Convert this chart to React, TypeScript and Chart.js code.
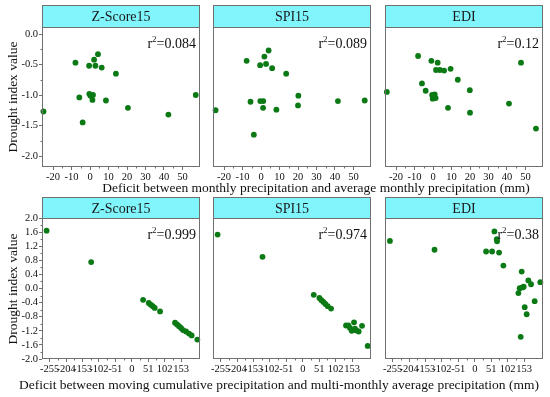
import React, { useEffect, useRef } from 'react';
import { Chart, registerables } from 'chart.js';
Chart.register(...registerables);

const FONT = '"Liberation Serif", "Times New Roman", serif';

const PANEL_TITLES = ['Z-Score15', 'SPI15', 'EDI'];
const TOP_R2 = ['0.084', '0.089', '0.12'];
const BOTTOM_R2 = ['0.999', '0.974', '0.38'];

const TOP_X_TICKS = [-20, -10, 0, 10, 20, 30, 40, 50];
const TOP_Y_TICKS = [0, -0.5, -1, -1.5, -2];
const BOTTOM_X_TICKS = [-255, -204, -153, -102, -51, 0, 51, 102, 153];
const BOTTOM_Y_TICKS = [2, 1.6, 1.2, 0.8, 0.4, 0, -0.4, -0.8, -1.2, -1.6, -2];

const TOP_X_RANGE = [-26, 59.5];
const TOP_Y_RANGE = [-2.18, 0.115];
const BOTTOM_X_RANGE = [-279, 212];
const BOTTOM_Y_RANGE = [-2, 2];

// Top row: monthly deficit (mm) vs index value
const topZX = [-25.2, -7.9, -5.8, -4.0, -0.5, -0.4, 0.2, 1.3, 1.6, 2.2, 2.9, 4.3, 6.3, 8.6, 14.0, 20.5, 42.4, 57.2];
const topZY = [-1.27, -0.47, -1.04, -1.45, -0.52, -0.98, -1.01, -1.08, -1.0, -0.42, -0.52, -0.33, -0.55, -1.09, -0.65, -1.21, -1.32, -1.0];

const topSX = [-24.6, -7.8, -5.7, -3.9, -0.5, -0.4, 1.2, 1.1, 1.8, 2.7, 4.1, 6.0, 8.3, 13.6, 20.2, 20.0, 41.6, 56.1];
const topSY = [-1.25, -0.44, -1.11, -1.65, -0.51, -1.1, -1.1, -1.21, -0.37, -0.49, -0.27, -0.56, -1.24, -0.65, -1.01, -1.17, -1.1, -1.09];

const topEX = [-25.0, -8.1, -6.0, -4.0, -0.9, -0.5, -0.2, 0.9, 1.4, 1.6, 2.5, 3.7, 6.0, 9.5, 8.1, 13.4, 19.9, 20.0, 41.1, 47.6, 55.7];
const topEY = [-0.95, -0.36, -0.81, -0.93, -0.44, -1.0, -1.06, -0.99, -1.05, -0.59, -0.47, -0.59, -0.6, -0.57, -1.21, -0.75, -0.92, -1.29, -1.14, -0.47, -1.55];

// Bottom row: cumulative deficit (mm) vs index value
const botZX = [-264.7, -126.2, 35.2, 52.7, 58.9, 65.2, 71.4, 87.9, 134.4, 140.6, 146.8, 153.0, 159.3, 168.6, 177.9, 186.1, 203.7];
const botZY = [1.64, 0.75, -0.32, -0.41, -0.46, -0.5, -0.55, -0.65, -0.97, -1.02, -1.07, -1.12, -1.18, -1.22, -1.28, -1.33, -1.45];

const botSX = [-264.7, -125.1, 34.1, 51.7, 57.9, 64.1, 70.3, 77.6, 87.9, 134.4, 141.7, 146.8, 152.0, 159.3, 162.4, 166.5, 173.7, 184.1, 201.7];
const botSY = [1.53, 0.9, -0.18, -0.27, -0.33, -0.38, -0.44, -0.5, -0.57, -1.05, -1.05, -1.12, -1.2, -0.96, -1.14, -1.19, -1.22, -1.06, -1.63];

const botEX = [-263.7, -125.1, 35.2, 53.8, 61.0, 68.3, 69.3, 75.5, 88.9, 145.8, 135.5, 139.6, 147.9, 152.0, 166.5, 174.8, 186.1, 155.1, 161.3, 142.7, 203.7];
const botEY = [1.35, 1.1, 1.05, 1.05, 1.62, 1.4, 1.34, 1.02, 0.65, 0.48, -0.13, 0.01, 0.03, 0.05, 0.23, 0.12, -0.36, -0.53, -0.73, -1.37, 0.18];

const TOP_TITLE = 'Deficit between monthly precipitation and average monthly precipitation (mm)';
const BOTTOM_TITLE = 'Deficit between moving cumulative precipitation and multi-monthly average precipitation (mm)';
const Y_TITLE = 'Drought index value';

const LEFT_SPACE = 36;
const RIGHT_SPACE = 6;
const TOP_SPACE = 26;
const BOTTOM_SPACE = 20;

const PANEL_X = [[42, 200], [213, 371], [385, 543]];
const ROWS = [
  { stripTop: 5, plotTop: 27, plotBottom: 167 },
  { stripTop: 197, plotTop: 218, plotBottom: 359 },
];

const FRAME = '#707070';
const DOT = '#0b7a14';
const STRIP = '#80f6fc';

const decoPlugin = {
  id: 'panelDeco',
  afterDraw(chart: any, _args: any, opts: any) {
    const { ctx, chartArea: a, scales } = chart;
    ctx.save();
    const l = Math.round(a.left) + 0.5;
    const t = Math.round(a.top) + 0.5;
    const r = Math.round(a.right) - 0.5;
    const b = Math.round(a.bottom) - 0.5;
    // strip header
    const st = t - opts.stripH;
    ctx.fillStyle = STRIP;
    ctx.fillRect(l, st, r - l, t - st);
    ctx.strokeStyle = FRAME;
    ctx.lineWidth = 1;
    ctx.strokeRect(l, st, r - l, t - st);
    ctx.fillStyle = '#1a1a1a';
    ctx.font = `14px ${FONT}`;
    ctx.textAlign = 'center';
    ctx.textBaseline = 'middle';
    ctx.fillText(opts.title, (l + r) / 2, (st + t) / 2 + 1);
    // frame
    ctx.strokeRect(l, t, r - l, b - t);
    // minor ticks
    const xt: number[] = opts.xTicks;
    ctx.beginPath();
    for (let i = 0; i < xt.length - 1; i++) {
      const px = Math.round(scales.x.getPixelForValue((xt[i] + xt[i + 1]) / 2)) + 0.5;
      ctx.moveTo(px, b);
      ctx.lineTo(px, b + 2);
    }
    if (opts.showY) {
      const yt: number[] = opts.yTicks;
      for (let i = 0; i < yt.length - 1; i++) {
        const py = Math.round(scales.y.getPixelForValue((yt[i] + yt[i + 1]) / 2)) + 0.5;
        ctx.moveTo(l, py);
        ctx.lineTo(l - 2, py);
      }
    }
    ctx.stroke();
    // r^2 label
    const big = `14px ${FONT}`;
    const small = `9px ${FONT}`;
    ctx.fillStyle = '#111';
    ctx.textBaseline = 'alphabetic';
    ctx.textAlign = 'left';
    const main = '=' + opts.r2;
    ctx.font = big;
    const wR = ctx.measureText('r').width;
    const wMain = ctx.measureText(main).width;
    ctx.font = small;
    const wSup = ctx.measureText('2').width;
    const yb = a.top + 21;
    const x0 = a.right - 4 - wMain - wSup - wR;
    ctx.font = big;
    ctx.fillText('r', x0, yb);
    ctx.font = small;
    ctx.fillText('2', x0 + wR, yb - 6);
    ctx.font = big;
    ctx.fillText(main, x0 + wR + wSup, yb);
    ctx.restore();
  },
};

type PanelProps = {
  col: number;
  row: number;
  xs: number[];
  ys: number[];
  xTicks: number[];
  yTicks: number[];
  xRange: number[];
  yRange: number[];
  r2: string;
  yDigits: number;
};

function Panel(p: PanelProps) {
  const ref = useRef<HTMLCanvasElement>(null);
  const [px0, px1] = PANEL_X[p.col];
  const rowG = ROWS[p.row];
  const w = px1 - px0 + LEFT_SPACE + RIGHT_SPACE;
  const h = rowG.plotBottom - rowG.plotTop + TOP_SPACE + BOTTOM_SPACE;
  const showY = p.col === 0;

  useEffect(() => {
    if (!ref.current) return;
    const chart = new Chart(ref.current, {
      type: 'scatter',
      data: {
        datasets: [
          {
            data: p.xs.map((x, i) => ({ x, y: p.ys[i] })),
            backgroundColor: DOT,
            borderWidth: 0,
            pointRadius: 2.9,
            clip: false as any,
          },
        ],
      },
      options: {
        animation: false,
        responsive: false,
        devicePixelRatio: 1,
        layout: { padding: { left: 0, right: RIGHT_SPACE, top: TOP_SPACE, bottom: 0 } },
        plugins: {
          legend: { display: false },
          tooltip: { enabled: false },
          panelDeco: {
            r2: p.r2,
            xTicks: p.xTicks,
            yTicks: p.yTicks,
            showY,
            title: PANEL_TITLES[p.col],
            stripH: rowG.plotTop - rowG.stripTop,
          } as any,
        },
        scales: {
          x: {
            type: 'linear',
            min: p.xRange[0],
            max: p.xRange[1],
            afterBuildTicks: (s: any) => {
              s.ticks = p.xTicks.map((v) => ({ value: v }));
            },
            afterFit: (s: any) => {
              s.height = BOTTOM_SPACE;
            },
            border: { display: false },
            grid: { drawOnChartArea: false, drawTicks: true, tickLength: 3, color: FRAME },
            ticks: {
              autoSkip: false,
              maxRotation: 0,
              minRotation: 0,
              padding: 1,
              color: '#111',
              font: { family: FONT, size: 10.5 },
              callback: (v: any) => String(Math.round(Number(v))),
            },
          },
          y: {
            type: 'linear',
            min: p.yRange[0],
            max: p.yRange[1],
            afterBuildTicks: (s: any) => {
              s.ticks = p.yTicks.map((v) => ({ value: v }));
            },
            afterFit: (s: any) => {
              s.width = LEFT_SPACE;
            },
            border: { display: false },
            grid: { display: showY, drawOnChartArea: false, drawTicks: true, tickLength: 3, color: FRAME },
            ticks: {
              display: showY,
              autoSkip: false,
              padding: 1,
              color: '#111',
              font: { family: FONT, size: 10.5 },
              callback: (v: any) => Number(v).toFixed(p.yDigits),
            },
          },
        },
      },
      plugins: [decoPlugin as any],
    });
    return () => chart.destroy();
  }, []);

  return (
    <canvas
      ref={ref}
      width={w}
      height={h}
      style={{
        position: 'absolute',
        left: px0 - LEFT_SPACE,
        top: rowG.plotTop - TOP_SPACE,
        width: w,
        height: h,
      }}
    />
  );
}

export default function App() {
  const topXs = [topZX, topSX, topEX];
  const topYs = [topZY, topSY, topEY];
  const botXs = [botZX, botSX, botEX];
  const botYs = [botZY, botSY, botEY];
  const text = (s: string, cx: number, cy: number, rot = false) => (
    <div
      style={{
        position: 'absolute',
        left: cx,
        top: cy,
        transform: `translate(-50%, -50%)${rot ? ' rotate(-90deg)' : ''}`,
        whiteSpace: 'nowrap',
        fontFamily: FONT,
        fontSize: 13.5,
        fontWeight: 400,
        color: '#111',
        lineHeight: 1,
      }}
    >
      {s}
    </div>
  );
  return (
    <div style={{ position: 'fixed', left: 0, top: 0, width: 550, height: 397, background: '#fff', overflow: 'hidden' }}>
      {[0, 1, 2].map((c) => (
        <Panel
          key={'t' + c}
          col={c}
          row={0}
          xs={topXs[c]}
          ys={topYs[c]}
          xTicks={TOP_X_TICKS}
          yTicks={TOP_Y_TICKS}
          xRange={TOP_X_RANGE}
          yRange={TOP_Y_RANGE}
          r2={TOP_R2[c]}
          yDigits={1}
        />
      ))}
      {[0, 1, 2].map((c) => (
        <Panel
          key={'b' + c}
          col={c}
          row={1}
          xs={botXs[c]}
          ys={botYs[c]}
          xTicks={BOTTOM_X_TICKS}
          yTicks={BOTTOM_Y_TICKS}
          xRange={BOTTOM_X_RANGE}
          yRange={BOTTOM_Y_RANGE}
          r2={BOTTOM_R2[c]}
          yDigits={1}
        />
      ))}
      {text(TOP_TITLE, 316, 188)}
      {text(BOTTOM_TITLE, 279, 384.5)}
      {text(Y_TITLE, 12.5, 97, true)}
      {text(Y_TITLE, 12.5, 288.5, true)}
    </div>
  );
}
